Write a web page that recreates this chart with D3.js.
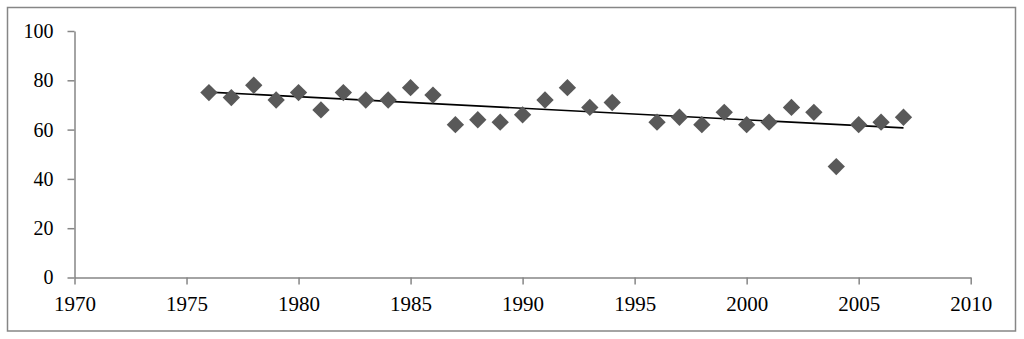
<!DOCTYPE html>
<html><head><meta charset="utf-8">
<script src="https://cdn.jsdelivr.net/npm/d3@7"></script>
<style>html,body{margin:0;padding:0;background:#fff;}svg{display:block;} text{font-family:"Liberation Serif","Times New Roman",serif;}</style>
</head><body>
<svg id="c" width="1024" height="339"></svg>
<script>
const years = [1976,1977,1978,1979,1980,1981,1982,1983,1984,1985,1986,1987,1988,1989,1990,1991,1992,1993,1994,1996,1997,1998,1999,2000,2001,2002,2003,2004,2005,2006,2007];
const values = [75,73,78,72,75,68,75,72,72,77,74,62,64,63,66,72,77,69,71,63,65,62,67,62,63,69,67,45,62,63,65];
const xTicks = [1970,1975,1980,1985,1990,1995,2000,2005,2010];
const yTicks = [0,20,40,60,80,100];

const svg = d3.select("#c");
svg.append("rect").attr("x",7.5).attr("y",7.5).attr("width",1008).attr("height",323.5)
  .attr("fill","#fff").attr("stroke","#868686").attr("stroke-width",1.5);

const x = d3.scaleLinear().domain([1970,2010]).range([74.5,970.7]);
const y = d3.scaleLinear().domain([0,100]).range([277.5,31]);
const axisColor = "#868686";
const font = '"Liberation Serif","Times New Roman",serif';

const gx = svg.append("g").attr("transform",`translate(0,${y(0)})`)
  .call(d3.axisBottom(x).tickValues(xTicks).tickFormat(d3.format("d")).tickSize(7).tickSizeOuter(0).tickPadding(12));
const gy = svg.append("g").attr("transform",`translate(${x(1970)},0)`)
  .call(d3.axisLeft(y).tickValues(yTicks).tickSize(7).tickSizeOuter(0).tickPadding(14));
gx.attr("font-family",font).attr("font-size",21);
gy.attr("font-family",font).attr("font-size",20);
[gx,gy].forEach(g=>{
  g.selectAll("path,line").attr("stroke",axisColor).attr("stroke-width",1.5);
  g.selectAll("text").attr("fill","#000");
});

const data = years.map((d,i)=>({x:d,y:values[i]}));
// least squares linear trendline computed from the data
const mx = d3.mean(data,d=>d.x), my = d3.mean(data,d=>d.y);
const slope = d3.sum(data,d=>(d.x-mx)*(d.y-my))/d3.sum(data,d=>(d.x-mx)**2);
const icpt = my - slope*mx;
const x0 = d3.min(years), x1 = d3.max(years);
svg.append("line").attr("x1",x(x0)).attr("y1",y(icpt+slope*x0)).attr("x2",x(x1)).attr("y2",y(icpt+slope*x1))
  .attr("stroke","#000").attr("stroke-width",1.6);

const sym = d3.symbol().type(d3.symbolSquare).size(150);
svg.append("g").selectAll("path").data(data).join("path")
  .attr("d",sym)
  .attr("transform",d=>`translate(${x(d.x)},${y(d.y)}) rotate(45)`)
  .attr("fill","#595959");
</script>
</body></html>
